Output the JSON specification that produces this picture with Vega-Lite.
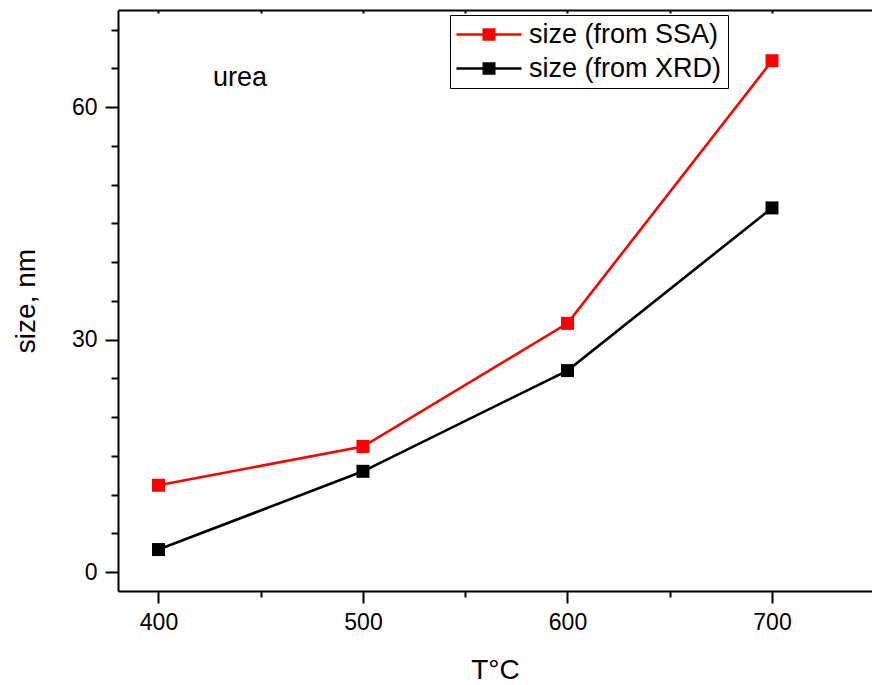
{
  "$schema": "https://vega.github.io/schema/vega-lite/v6.json",
  "width": 754,
  "height": 581,
  "autosize": {"type": "none"},
  "padding": {"left": 118, "top": 10, "right": 0, "bottom": 94},
  "background": "white",
  "config": {
    "view": {"stroke": null},
    "font": "Liberation Sans",
    "axis": {"grid": false, "labelFont": "Liberation Sans", "titleFont": "Liberation Sans", "labelColor": "black", "titleColor": "black", "tickColor": "black", "domainColor": "black", "titleFontWeight": "normal"},
    "axisLeft": {
      "values": [0, 15, 30, 45, 60],
      "labelExpr": "datum.value % 30 === 0 ? datum.label : ''",
      "tickSize": {"condition": {"test": "datum.value % 30 !== 0", "value": 7}, "value": 13},
      "tickWidth": 2, "domainWidth": 2,
      "labelFontSize": 23, "labelPadding": 8, "labelOverlap": false, "labelFlush": false,
      "titleFontSize": 28, "titlePadding": 31
    },
    "legend": {
      "orient": "none", "legendX": 332, "legendY": 5,
      "symbolType": "M-2,-0.2H8V0.2H-2Z M2,-0.95H4V0.95H2Z",
      "symbolSize": 169, "symbolStrokeWidth": 0,
      "labelFontSize": 27, "labelFont": "Liberation Sans", "labelColor": "black",
      "labelOffset": 46, "labelLimit": 400,
      "padding": 6, "rowPadding": 6,
      "strokeColor": "black", "strokeWidth": 1, "fillColor": "white"
    }
  },
  "data": {
    "values": [
      {"T": 400, "size": 11.2, "series": "size (from SSA)"},
      {"T": 500, "size": 16.2, "series": "size (from SSA)"},
      {"T": 600, "size": 32.1, "series": "size (from SSA)"},
      {"T": 700, "size": 66.0, "series": "size (from SSA)"},
      {"T": 400, "size": 2.9, "series": "size (from XRD)"},
      {"T": 500, "size": 13.0, "series": "size (from XRD)"},
      {"T": 600, "size": 26.0, "series": "size (from XRD)"},
      {"T": 700, "size": 47.0, "series": "size (from XRD)"}
    ]
  },
  "layer": [
    {
      "mark": {"type": "line", "strokeWidth": 2.6},
      "encoding": {
        "x": {
          "field": "T", "type": "quantitative",
          "scale": {"domain": [380.2, 748.9], "nice": false, "zero": false},
          "axis": {
            "orient": "bottom",
            "values": [400, 450, 500, 550, 600, 650, 700],
            "labelExpr": "datum.value % 100 === 0 ? datum.label : ''",
            "tickSize": {"condition": {"test": "datum.value % 100 !== 0", "value": 6}, "value": 12},
            "tickWidth": 2, "domainWidth": 2,
            "labelFontSize": 23, "labelPadding": 8, "labelOverlap": false, "labelFlush": false,
            "title": "T°C", "titleFontSize": 28, "titlePadding": 22
          }
        },
        "y": {
          "field": "size", "type": "quantitative",
          "scale": {"domain": [-2.45, 72.55], "nice": false, "zero": false},
          "axis": {"orient": "left", "title": "size, nm"}
        },
        "color": {
          "field": "series", "type": "nominal",
          "scale": {"domain": ["size (from SSA)", "size (from XRD)"], "range": ["#ff0000", "#000000"]},
          "legend": {"title": null}
        }
      }
    },
    {
      "mark": {"type": "point", "shape": "square", "filled": true, "size": 169, "opacity": 1, "strokeWidth": 0},
      "encoding": {
        "x": {
          "field": "T", "type": "quantitative",
          "axis": {
            "orient": "top",
            "values": [400, 450, 500, 550, 600, 650, 700],
            "labels": false, "tickSize": -3, "tickWidth": 2, "domainWidth": 2, "title": null
          }
        },
        "y": {"field": "size", "type": "quantitative", "axis": {"orient": "left", "title": "size, nm"}},
        "color": {
          "field": "series", "type": "nominal",
          "legend": {"title": null}
        }
      }
    },
    {
      "data": {"values": [{"label": "urea", "px": 426.7, "py": 62.7}]},
      "mark": {"type": "text", "fontSize": 27, "font": "Liberation Sans", "align": "left", "baseline": "alphabetic", "color": "black"},
      "encoding": {
        "x": {"field": "px", "type": "quantitative", "axis": null},
        "y": {"field": "py", "type": "quantitative", "axis": {"orient": "left", "title": "size, nm"}},
        "text": {"field": "label", "type": "nominal"}
      }
    }
  ],
  "resolve": {"axis": {"x": "independent"}}
}
